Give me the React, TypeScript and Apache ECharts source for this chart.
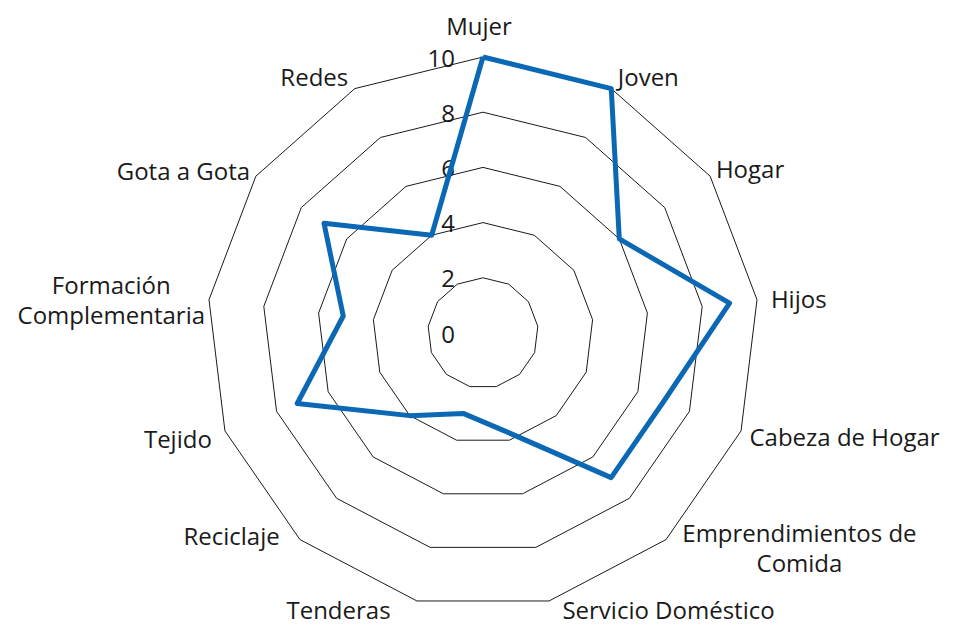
import React, { useEffect, useRef } from "react";
import * as echarts from "echarts";

// Categories in clockwise order starting at the top
const categories = [
  "Mujer",
  "Joven",
  "Hogar",
  "Hijos",
  "Cabeza de Hogar",
  "Emprendimientos de\nComida",
  "Servicio Doméstico",
  "Tenderas",
  "Reciclaje",
  "Tejido",
  "Formación\nComplementaria",
  "Gota a Gota",
  "Redes",
];
const values = [10, 10, 6, 9, 7, 7, 3.7, 3, 4, 7.2, 5.1, 7, 4];
const maxValue = 10;
const tickInterval = 2;

// label placement tweaks (style only): [top, right, bottom, left] padding and gap
const labelPadding: Record<string, number[]> = {
  Mujer: [0, 8, 3, 0],
  Hogar: [0, 0, 8, 0],
  "Cabeza de Hogar": [4, 0, 0, 0],
  "Emprendimientos de\nComida": [0, 0, 6, 7],
  "Servicio Doméstico": [0, 0, 10, 10],
  Tenderas: [0, 23, 10, 0],
  Reciclaje: [0, 11, 30, 0],
  Tejido: [6, 0, 0, 0],
  "Gota a Gota": [0, 0, 4, 0],
};
const labelGap: Record<string, number> = {
  Hogar: 7,
  "Cabeza de Hogar": 9,
  "Formación\nComplementaria": 4,
  "Gota a Gota": 7,
};
const tightLine: Record<string, boolean> = {
  "Servicio Doméstico": true,
  Tenderas: true,
};

const FONT = "'Open Sans', sans-serif";
const FS = 24;

export default function App() {
  const ref = useRef<HTMLDivElement>(null);
  useEffect(() => {
    if (!ref.current) return;
    const chart = echarts.init(ref.current, undefined, { renderer: "svg" });
    // ECharts lays indicators out counter-clockwise; reorder to get clockwise
    const order = [0, ...categories.slice(1).map((_, i) => categories.length - 1 - i)];
    const indicator = order.map((idx, k) => {
      const name = categories[idx];
      const ind: any = {
        name,
        min: 0,
        max: maxValue,
        axisLabel: { show: k === 0 },
      };
      const nts: any = {};
      if (labelPadding[name]) nts.padding = labelPadding[name];
      if (tightLine[name]) nts.lineHeight = 22;
      ind.nameTextStyle = nts;
      if (labelGap[name] != null) ind.nameGap = labelGap[name];
      return ind;
    });
    const data = order.map((idx) => values[idx]);
    chart.setOption({
      animation: false,
      backgroundColor: "#ffffff",
      radar: {
        center: [483, 333],
        radius: 276,
        startAngle: 90,
        shape: "polygon",
        splitNumber: maxValue / tickInterval,
        indicator,
        axisName: {
          color: "#1a1a1a",
          fontFamily: FONT,
          fontSize: FS,
          lineHeight: 30,
          formatter: (name: string) =>
            name.indexOf("\n") >= 0
              ? name
                  .split("\n")
                  .map((l) => `{c|${l}}`)
                  .join("\n")
              : name,
          rich: {
            c: {
              align: "center",
              color: "#1a1a1a",
              fontFamily: FONT,
              fontSize: FS,
              lineHeight: 30,
            },
          },
        },
        nameGap: 14,
        axisLine: { show: false },
        axisTick: { show: false },
        axisLabel: {
          show: true,
          color: "#1a1a1a",
          fontFamily: FONT,
          fontSize: FS,
          margin: 28,
        },
        splitLine: { lineStyle: { color: "#1a1a1a", width: 1 } },
        splitArea: { show: false },
      },
      series: [
        {
          type: "radar",
          symbol: "none",
          lineStyle: { color: "#0a68b4", width: 5 },
          data: [{ value: data }],
        },
      ],
    });
    return () => chart.dispose();
  }, []);
  return (
    <div
      ref={ref}
      style={{ position: "fixed", left: 0, top: 0, width: 954, height: 627 }}
    />
  );
}
